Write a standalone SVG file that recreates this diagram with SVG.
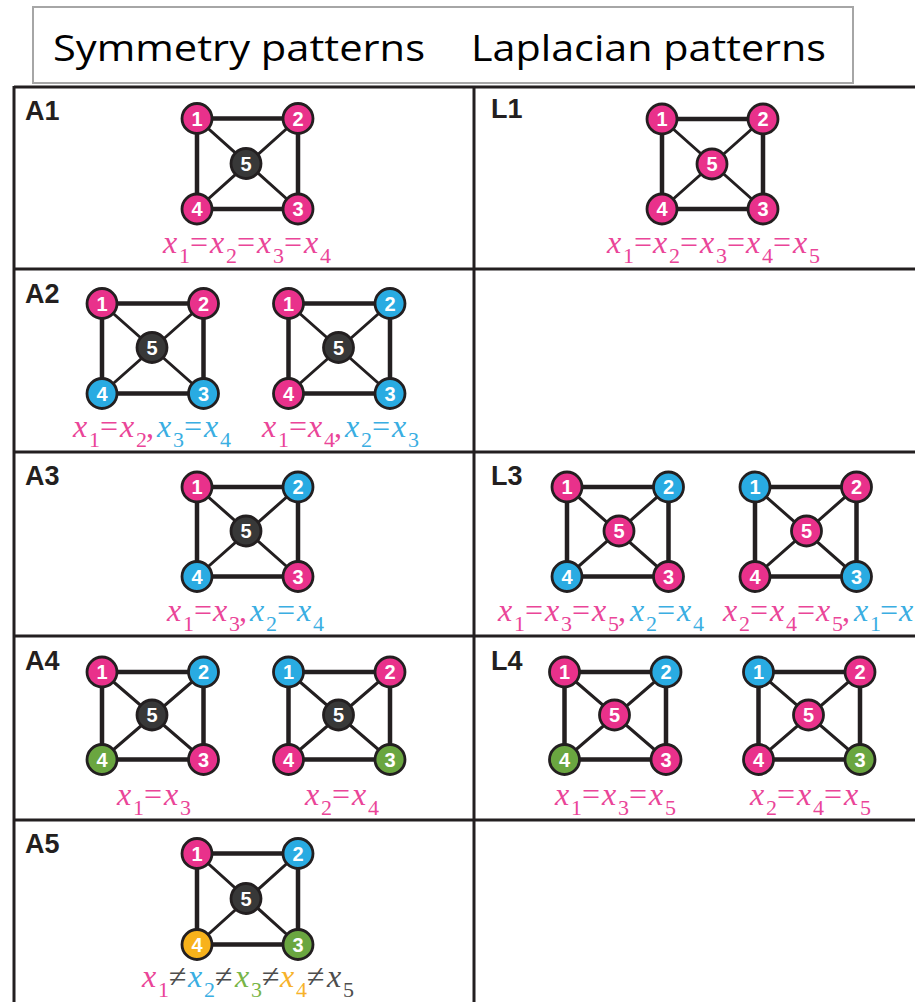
<svg xmlns="http://www.w3.org/2000/svg" width="915" height="1002" viewBox="0 0 915 1002">
<style>
  .grid { stroke:#231f20; stroke-width:3; fill:none; }
  .hdr { font-family:'Open Sans','Liberation Sans',sans-serif; font-size:36px; fill:#000; }
  .tag { font-family:'Liberation Sans',Arial,sans-serif; font-weight:bold; font-size:27px; fill:#231f20; }
  .side { stroke:#231f20; stroke-width:4.5; fill:none; }
  .diag { stroke:#231f20; stroke-width:3; fill:none; }
  .nd circle { stroke:#231f20; stroke-width:2.8; }
  .nd text { font-family:'Liberation Sans',Arial,sans-serif; font-weight:bold; font-size:20px; fill:#fff; text-anchor:middle; }
  .pk { fill:#e9318b; }
  .bl { fill:#29abe2; }
  .gr { fill:#6aa640; }
  .or { fill:#f8b21b; }
  .dk { fill:#383838; }
  text.eq, .eq tspan { font-family:'Liberation Serif','Times New Roman',serif; }
  .v { font-style:italic; font-size:32px; }
  .s { font-size:22px; }
  .o { font-size:32px; }
  .tp { fill:#ea4598; }
  .tb { fill:#3aaee2; }
  .tg { fill:#78b548; }
  .to { fill:#f7b22a; }
  .tk { fill:#4d4d4d; }
</style>

<!-- header box -->
<g id="header">
  <rect x="33" y="7" width="820" height="76" fill="#fff" stroke="#a6a6a6" stroke-width="2"/>
  <text class="hdr" x="53" y="61" textLength="372" lengthAdjust="spacingAndGlyphs">Symmetry patterns</text>
  <text class="hdr" x="471" y="61" textLength="355" lengthAdjust="spacingAndGlyphs">Laplacian patterns</text>
</g>

<!-- table rules -->
<g id="table" class="grid">
  <path d="M14,87H915M14,269H915M14,452H915M14,636H915M14,820H915"/>
  <path d="M14,86V1002M474,86V1002"/>
</g>

<!-- row tags -->
<g id="tags">
  <text class="tag" x="25" y="120">A1</text>
  <text class="tag" x="25" y="303">A2</text>
  <text class="tag" x="25" y="485">A3</text>
  <text class="tag" x="25" y="670">A4</text>
  <text class="tag" x="25" y="853">A5</text>
  <text class="tag" x="491" y="118">L1</text>
  <text class="tag" x="491" y="485">L3</text>
  <text class="tag" x="491" y="670">L4</text>
</g>

<!-- A1 -->
<g id="A1" transform="translate(197,118.5)">
  <g id="A1-edges"><path class="side" d="M0,0H101V90.5H0Z"/><path class="diag" d="M0,0L101,90.5M101,0L0,90.5"/></g>
  <g id="A1-n1" class="nd"><circle class="pk" r="15"/><text y="7">1</text></g>
  <g id="A1-n2" class="nd" transform="translate(101,0)"><circle class="pk" r="15"/><text y="7">2</text></g>
  <g id="A1-n3" class="nd" transform="translate(101,90.5)"><circle class="pk" r="15"/><text y="7">3</text></g>
  <g id="A1-n4" class="nd" transform="translate(0,90.5)"><circle class="pk" r="15"/><text y="7">4</text></g>
  <g id="A1-n5" class="nd" transform="translate(49,45)"><circle class="dk" r="15"/><text y="7">5</text></g>
</g>
<text class="eq" id="A1-eq" font-family="Liberation Serif, serif"><tspan class="v tp" x="163" y="253">x</tspan><tspan class="s tp" x="179" y="263">1</tspan><tspan class="o tp" x="190" y="253">=</tspan><tspan class="v tp" x="210" y="253">x</tspan><tspan class="s tp" x="226" y="263">2</tspan><tspan class="o tp" x="237" y="253">=</tspan><tspan class="v tp" x="257" y="253">x</tspan><tspan class="s tp" x="273" y="263">3</tspan><tspan class="o tp" x="284" y="253">=</tspan><tspan class="v tp" x="304" y="253">x</tspan><tspan class="s tp" x="320" y="263">4</tspan></text>

<!-- L1 -->
<g id="L1" transform="translate(662,119)">
  <g id="L1-edges"><path class="side" d="M0,0H101V90H0Z"/><path class="diag" d="M0,0L101,90M101,0L0,90"/></g>
  <g id="L1-n1" class="nd"><circle class="pk" r="15"/><text y="7">1</text></g>
  <g id="L1-n2" class="nd" transform="translate(101,0)"><circle class="pk" r="15"/><text y="7">2</text></g>
  <g id="L1-n3" class="nd" transform="translate(101,90)"><circle class="pk" r="15"/><text y="7">3</text></g>
  <g id="L1-n4" class="nd" transform="translate(0,90)"><circle class="pk" r="15"/><text y="7">4</text></g>
  <g id="L1-n5" class="nd" transform="translate(50,45)"><circle class="pk" r="15"/><text y="7">5</text></g>
</g>
<text class="eq" id="L1-eq" font-family="Liberation Serif, serif"><tspan class="v tp" x="607" y="253">x</tspan><tspan class="s tp" x="623" y="263">1</tspan><tspan class="o tp" x="634" y="253">=</tspan><tspan class="v tp" x="653" y="253">x</tspan><tspan class="s tp" x="669" y="263">2</tspan><tspan class="o tp" x="680" y="253">=</tspan><tspan class="v tp" x="700" y="253">x</tspan><tspan class="s tp" x="716" y="263">3</tspan><tspan class="o tp" x="727" y="253">=</tspan><tspan class="v tp" x="746" y="253">x</tspan><tspan class="s tp" x="762" y="263">4</tspan><tspan class="o tp" x="773" y="253">=</tspan><tspan class="v tp" x="793" y="253">x</tspan><tspan class="s tp" x="809" y="263">5</tspan></text>

<!-- A2 -->
<g id="A2a" transform="translate(102,303.5)">
  <g id="A2a-edges"><path class="side" d="M0,0H101.5V90H0Z"/><path class="diag" d="M0,0L101.5,90M101.5,0L0,90"/></g>
  <g id="A2a-n1" class="nd"><circle class="pk" r="15"/><text y="7">1</text></g>
  <g id="A2a-n2" class="nd" transform="translate(101.5,0)"><circle class="pk" r="15"/><text y="7">2</text></g>
  <g id="A2a-n3" class="nd" transform="translate(101.5,90)"><circle class="bl" r="15"/><text y="7">3</text></g>
  <g id="A2a-n4" class="nd" transform="translate(0,90)"><circle class="bl" r="15"/><text y="7">4</text></g>
  <g id="A2a-n5" class="nd" transform="translate(50,44)"><circle class="dk" r="15"/><text y="7">5</text></g>
</g>
<text class="eq" id="A2a-eq" font-family="Liberation Serif, serif"><tspan class="v tp" x="73" y="437">x</tspan><tspan class="s tp" x="89" y="447">1</tspan><tspan class="o tp" x="100" y="437">=</tspan><tspan class="v tp" x="120" y="437">x</tspan><tspan class="s tp" x="136" y="447">2</tspan><tspan class="o tp" x="146" y="437">,</tspan><tspan class="v tb" x="157" y="437">x</tspan><tspan class="s tb" x="173" y="447">3</tspan><tspan class="o tb" x="184" y="437">=</tspan><tspan class="v tb" x="204" y="437">x</tspan><tspan class="s tb" x="220" y="447">4</tspan></text>

<g id="A2b" transform="translate(288.5,303.5)">
  <g id="A2b-edges"><path class="side" d="M0,0H101.5V90H0Z"/><path class="diag" d="M0,0L101.5,90M101.5,0L0,90"/></g>
  <g id="A2b-n1" class="nd"><circle class="pk" r="15"/><text y="7">1</text></g>
  <g id="A2b-n2" class="nd" transform="translate(101.5,0)"><circle class="bl" r="15"/><text y="7">2</text></g>
  <g id="A2b-n3" class="nd" transform="translate(101.5,90)"><circle class="bl" r="15"/><text y="7">3</text></g>
  <g id="A2b-n4" class="nd" transform="translate(0,90)"><circle class="pk" r="15"/><text y="7">4</text></g>
  <g id="A2b-n5" class="nd" transform="translate(50,44)"><circle class="dk" r="15"/><text y="7">5</text></g>
</g>
<text class="eq" id="A2b-eq" font-family="Liberation Serif, serif"><tspan class="v tp" x="262" y="437">x</tspan><tspan class="s tp" x="278" y="447">1</tspan><tspan class="o tp" x="289" y="437">=</tspan><tspan class="v tp" x="308" y="437">x</tspan><tspan class="s tp" x="324" y="447">4</tspan><tspan class="o tp" x="334" y="437">,</tspan><tspan class="v tb" x="345" y="437">x</tspan><tspan class="s tb" x="361" y="447">2</tspan><tspan class="o tb" x="372" y="437">=</tspan><tspan class="v tb" x="392" y="437">x</tspan><tspan class="s tb" x="408" y="447">3</tspan></text>

<!-- A3 -->
<g id="A3" transform="translate(197,487)">
  <g id="A3-edges"><path class="side" d="M0,0H101V89.5H0Z"/><path class="diag" d="M0,0L101,89.5M101,0L0,89.5"/></g>
  <g id="A3-n1" class="nd"><circle class="pk" r="15"/><text y="7">1</text></g>
  <g id="A3-n2" class="nd" transform="translate(101,0)"><circle class="bl" r="15"/><text y="7">2</text></g>
  <g id="A3-n3" class="nd" transform="translate(101,89.5)"><circle class="pk" r="15"/><text y="7">3</text></g>
  <g id="A3-n4" class="nd" transform="translate(0,89.5)"><circle class="bl" r="15"/><text y="7">4</text></g>
  <g id="A3-n5" class="nd" transform="translate(49,44)"><circle class="dk" r="15"/><text y="7">5</text></g>
</g>
<text class="eq" id="A3-eq" font-family="Liberation Serif, serif"><tspan class="v tp" x="167" y="621">x</tspan><tspan class="s tp" x="183" y="631">1</tspan><tspan class="o tp" x="194" y="621">=</tspan><tspan class="v tp" x="213" y="621">x</tspan><tspan class="s tp" x="229" y="631">3</tspan><tspan class="o tp" x="239" y="621">,</tspan><tspan class="v tb" x="250" y="621">x</tspan><tspan class="s tb" x="266" y="631">2</tspan><tspan class="o tb" x="277" y="621">=</tspan><tspan class="v tb" x="297" y="621">x</tspan><tspan class="s tb" x="313" y="631">4</tspan></text>

<!-- L3 -->
<g id="L3a" transform="translate(567,487)">
  <g id="L3a-edges"><path class="side" d="M0,0H101.5V89.5H0Z"/><path class="diag" d="M0,0L101.5,89.5M101.5,0L0,89.5"/></g>
  <g id="L3a-n1" class="nd"><circle class="pk" r="15"/><text y="7">1</text></g>
  <g id="L3a-n2" class="nd" transform="translate(101.5,0)"><circle class="bl" r="15"/><text y="7">2</text></g>
  <g id="L3a-n3" class="nd" transform="translate(101.5,89.5)"><circle class="pk" r="15"/><text y="7">3</text></g>
  <g id="L3a-n4" class="nd" transform="translate(0,89.5)"><circle class="bl" r="15"/><text y="7">4</text></g>
  <g id="L3a-n5" class="nd" transform="translate(52,44)"><circle class="pk" r="15"/><text y="7">5</text></g>
</g>
<text class="eq" id="L3a-eq" font-family="Liberation Serif, serif"><tspan class="v tp" x="498" y="621">x</tspan><tspan class="s tp" x="514" y="631">1</tspan><tspan class="o tp" x="525" y="621">=</tspan><tspan class="v tp" x="545" y="621">x</tspan><tspan class="s tp" x="561" y="631">3</tspan><tspan class="o tp" x="572" y="621">=</tspan><tspan class="v tp" x="592" y="621">x</tspan><tspan class="s tp" x="608" y="631">5</tspan><tspan class="o tp" x="618" y="621">,</tspan><tspan class="v tb" x="630" y="621">x</tspan><tspan class="s tb" x="646" y="631">2</tspan><tspan class="o tb" x="657" y="621">=</tspan><tspan class="v tb" x="677" y="621">x</tspan><tspan class="s tb" x="693" y="631">4</tspan></text>

<g id="L3b" transform="translate(755,487)">
  <g id="L3b-edges"><path class="side" d="M0,0H101.5V89.5H0Z"/><path class="diag" d="M0,0L101.5,89.5M101.5,0L0,89.5"/></g>
  <g id="L3b-n1" class="nd"><circle class="bl" r="15"/><text y="7">1</text></g>
  <g id="L3b-n2" class="nd" transform="translate(101.5,0)"><circle class="pk" r="15"/><text y="7">2</text></g>
  <g id="L3b-n3" class="nd" transform="translate(101.5,89.5)"><circle class="bl" r="15"/><text y="7">3</text></g>
  <g id="L3b-n4" class="nd" transform="translate(0,89.5)"><circle class="pk" r="15"/><text y="7">4</text></g>
  <g id="L3b-n5" class="nd" transform="translate(51.5,44)"><circle class="pk" r="15"/><text y="7">5</text></g>
</g>
<text class="eq" id="L3b-eq" font-family="Liberation Serif, serif"><tspan class="v tp" x="723" y="621">x</tspan><tspan class="s tp" x="739" y="631">2</tspan><tspan class="o tp" x="750" y="621">=</tspan><tspan class="v tp" x="770" y="621">x</tspan><tspan class="s tp" x="786" y="631">4</tspan><tspan class="o tp" x="797" y="621">=</tspan><tspan class="v tp" x="816" y="621">x</tspan><tspan class="s tp" x="832" y="631">5</tspan><tspan class="o tp" x="842" y="621">,</tspan><tspan class="v tb" x="854" y="621">x</tspan><tspan class="s tb" x="870" y="631">1</tspan><tspan class="o tb" x="880" y="621">=</tspan><tspan class="v tb" x="899" y="621">x</tspan></text>

<!-- A4 -->
<g id="A4a" transform="translate(102,672)">
  <g id="A4a-edges"><path class="side" d="M0,0H101.5V87.5H0Z"/><path class="diag" d="M0,0L101.5,87.5M101.5,0L0,87.5"/></g>
  <g id="A4a-n1" class="nd"><circle class="pk" r="15"/><text y="7">1</text></g>
  <g id="A4a-n2" class="nd" transform="translate(101.5,0)"><circle class="bl" r="15"/><text y="7">2</text></g>
  <g id="A4a-n3" class="nd" transform="translate(101.5,87.5)"><circle class="pk" r="15"/><text y="7">3</text></g>
  <g id="A4a-n4" class="nd" transform="translate(0,87.5)"><circle class="gr" r="15"/><text y="7">4</text></g>
  <g id="A4a-n5" class="nd" transform="translate(50,43)"><circle class="dk" r="15"/><text y="7">5</text></g>
</g>
<text class="eq" id="A4a-eq" font-family="Liberation Serif, serif"><tspan class="v tp" x="117" y="805">x</tspan><tspan class="s tp" x="133" y="815">1</tspan><tspan class="o tp" x="144" y="805">=</tspan><tspan class="v tp" x="164" y="805">x</tspan><tspan class="s tp" x="180" y="815">3</tspan></text>

<g id="A4b" transform="translate(288.5,672)">
  <g id="A4b-edges"><path class="side" d="M0,0H101.5V87.5H0Z"/><path class="diag" d="M0,0L101.5,87.5M101.5,0L0,87.5"/></g>
  <g id="A4b-n1" class="nd"><circle class="bl" r="15"/><text y="7">1</text></g>
  <g id="A4b-n2" class="nd" transform="translate(101.5,0)"><circle class="pk" r="15"/><text y="7">2</text></g>
  <g id="A4b-n3" class="nd" transform="translate(101.5,87.5)"><circle class="gr" r="15"/><text y="7">3</text></g>
  <g id="A4b-n4" class="nd" transform="translate(0,87.5)"><circle class="pk" r="15"/><text y="7">4</text></g>
  <g id="A4b-n5" class="nd" transform="translate(50,43)"><circle class="dk" r="15"/><text y="7">5</text></g>
</g>
<text class="eq" id="A4b-eq" font-family="Liberation Serif, serif"><tspan class="v tp" x="305" y="805">x</tspan><tspan class="s tp" x="321" y="815">2</tspan><tspan class="o tp" x="332" y="805">=</tspan><tspan class="v tp" x="352" y="805">x</tspan><tspan class="s tp" x="368" y="815">4</tspan></text>

<!-- L4 -->
<g id="L4a" transform="translate(564.5,672)">
  <g id="L4a-edges"><path class="side" d="M0,0H101.5V87.5H0Z"/><path class="diag" d="M0,0L101.5,87.5M101.5,0L0,87.5"/></g>
  <g id="L4a-n1" class="nd"><circle class="pk" r="15"/><text y="7">1</text></g>
  <g id="L4a-n2" class="nd" transform="translate(101.5,0)"><circle class="bl" r="15"/><text y="7">2</text></g>
  <g id="L4a-n3" class="nd" transform="translate(101.5,87.5)"><circle class="pk" r="15"/><text y="7">3</text></g>
  <g id="L4a-n4" class="nd" transform="translate(0,87.5)"><circle class="gr" r="15"/><text y="7">4</text></g>
  <g id="L4a-n5" class="nd" transform="translate(50,43)"><circle class="pk" r="15"/><text y="7">5</text></g>
</g>
<text class="eq" id="L4a-eq" font-family="Liberation Serif, serif"><tspan class="v tp" x="555" y="805">x</tspan><tspan class="s tp" x="571" y="815">1</tspan><tspan class="o tp" x="582" y="805">=</tspan><tspan class="v tp" x="602" y="805">x</tspan><tspan class="s tp" x="618" y="815">3</tspan><tspan class="o tp" x="629" y="805">=</tspan><tspan class="v tp" x="649" y="805">x</tspan><tspan class="s tp" x="665" y="815">5</tspan></text>

<g id="L4b" transform="translate(758.5,672)">
  <g id="L4b-edges"><path class="side" d="M0,0H101.5V87.5H0Z"/><path class="diag" d="M0,0L101.5,87.5M101.5,0L0,87.5"/></g>
  <g id="L4b-n1" class="nd"><circle class="bl" r="15"/><text y="7">1</text></g>
  <g id="L4b-n2" class="nd" transform="translate(101.5,0)"><circle class="pk" r="15"/><text y="7">2</text></g>
  <g id="L4b-n3" class="nd" transform="translate(101.5,87.5)"><circle class="gr" r="15"/><text y="7">3</text></g>
  <g id="L4b-n4" class="nd" transform="translate(0,87.5)"><circle class="pk" r="15"/><text y="7">4</text></g>
  <g id="L4b-n5" class="nd" transform="translate(50,43)"><circle class="pk" r="15"/><text y="7">5</text></g>
</g>
<text class="eq" id="L4b-eq" font-family="Liberation Serif, serif"><tspan class="v tp" x="750" y="805">x</tspan><tspan class="s tp" x="766" y="815">2</tspan><tspan class="o tp" x="777" y="805">=</tspan><tspan class="v tp" x="797" y="805">x</tspan><tspan class="s tp" x="813" y="815">4</tspan><tspan class="o tp" x="824" y="805">=</tspan><tspan class="v tp" x="844" y="805">x</tspan><tspan class="s tp" x="860" y="815">5</tspan></text>

<!-- A5 -->
<g id="A5" transform="translate(197,853.5)">
  <g id="A5-edges"><path class="side" d="M0,0H101V91H0Z"/><path class="diag" d="M0,0L101,91M101,0L0,91"/></g>
  <g id="A5-n1" class="nd"><circle class="pk" r="15"/><text y="7">1</text></g>
  <g id="A5-n2" class="nd" transform="translate(101,0)"><circle class="bl" r="15"/><text y="7">2</text></g>
  <g id="A5-n3" class="nd" transform="translate(101,91)"><circle class="gr" r="15"/><text y="7">3</text></g>
  <g id="A5-n4" class="nd" transform="translate(0,91)"><circle class="or" r="15"/><text y="7">4</text></g>
  <g id="A5-n5" class="nd" transform="translate(49,45)"><circle class="dk" r="15"/><text y="7">5</text></g>
</g>
<text class="eq" id="A5-eq" font-family="Liberation Serif, serif"><tspan class="v tp" x="142" y="987">x</tspan><tspan class="s tp" x="158" y="997">1</tspan><tspan class="o tk" x="169" y="987">≠</tspan><tspan class="v tb" x="188" y="987">x</tspan><tspan class="s tb" x="204" y="997">2</tspan><tspan class="o tk" x="215" y="987">≠</tspan><tspan class="v tg" x="235" y="987">x</tspan><tspan class="s tg" x="251" y="997">3</tspan><tspan class="o tk" x="262" y="987">≠</tspan><tspan class="v to" x="280" y="987">x</tspan><tspan class="s to" x="296" y="997">4</tspan><tspan class="o tk" x="307" y="987">≠</tspan><tspan class="v tk" x="327" y="987">x</tspan><tspan class="s tk" x="343" y="997">5</tspan></text>
</svg>
